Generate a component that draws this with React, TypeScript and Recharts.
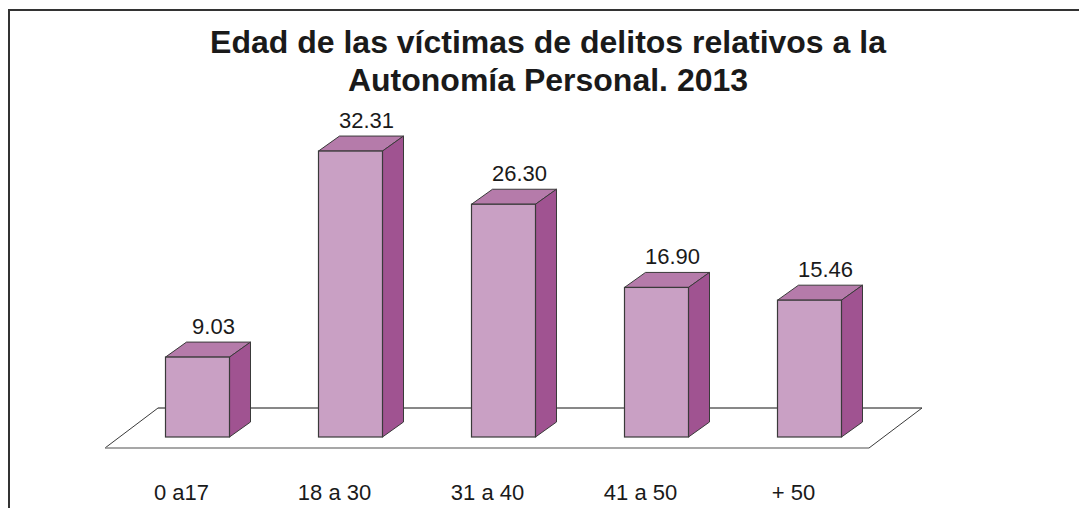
import React from "react";
import { BarChart, Bar, XAxis, YAxis, LabelList } from "recharts";

const categories = ["0 a17", "18 a 30", "31 a 40", "41 a 50", "+ 50"];
const values = [9.03, 32.31, 26.3, 16.9, 15.46];
const titleLines = ["Edad de las víctimas de delitos relativos a la", "Autonomía Personal. 2013"];

const data = categories.map((c, i) => ({ name: c, value: values[i] }));

const W = 1079;
const H = 508;
const MARGIN = { top: 83, right: 193, bottom: 41, left: 121 };
const XAXIS_H = 30;
const PLOT_L = MARGIN.left;
const PLOT_R = W - MARGIN.right;

const DX = 21;
const DY = 15;
const FRONT = "#C9A0C4";
const TOP = "#B57BAA";
const SIDE = "#A05391";
const EDGE = "#3a3a3a";
const FONT = "'Liberation Sans', Arial, Helvetica, sans-serif";

const BarShape = (props: any) => {
  const { x, y, width: w, height: h, index } = props;
  const y0 = y + h;
  let floor = null;
  if (index === 0) {
    const fy = y0 + 11;
    const by = y0 - 29;
    const fl = PLOT_L - 16;
    const fr = PLOT_R - 17;
    floor = (
      <g>
        <polygon
          points={`${fl},${fy} ${fr},${fy} ${fr + 53},${by} ${fl + 53},${by}`}
          fill="#ffffff"
          stroke="none"
        />
        <line x1={fl} y1={fy} x2={fl + 53} y2={by} stroke={EDGE} strokeWidth={1} />
        <line x1={fl + 53} y1={by} x2={fr + 53} y2={by} stroke="#111" strokeWidth={1} />
        <line x1={fr + 53} y1={by} x2={fr} y2={fy} stroke={EDGE} strokeWidth={1} />
        <line x1={fl} y1={fy} x2={fr} y2={fy} stroke="#8a8a8a" strokeWidth={1.5} />
      </g>
    );
  }
  return (
    <g>
      {floor}
      <polygon
        points={`${x},${y} ${x + DX},${y - DY} ${x + w + DX},${y - DY} ${x + w},${y}`}
        fill={TOP}
        stroke={EDGE}
        strokeWidth={1}
        strokeLinejoin="round"
      />
      <polygon
        points={`${x + w},${y} ${x + w + DX},${y - DY} ${x + w + DX},${y0 - DY} ${x + w},${y0}`}
        fill={SIDE}
        stroke={EDGE}
        strokeWidth={1}
        strokeLinejoin="round"
      />
      <rect x={x} y={y} width={w} height={h} fill={FRONT} stroke={EDGE} strokeWidth={1.2} />
    </g>
  );
};

const ValueLabel = (props: any) => {
  const { x, y, width, value } = props;
  return (
    <text
      x={x + width / 2 + 16}
      y={y - DY - 8}
      textAnchor="middle"
      fontFamily={FONT}
      fontSize={22}
      fill="#1a1a1a"
    >
      {Number(value).toFixed(2)}
    </text>
  );
};

const CatTick = (props: any) => {
  const { x, y, payload } = props;
  return (
    <text
      x={x - 16}
      y={y}
      dy={55}
      textAnchor="middle"
      fontFamily={FONT}
      fontSize={22}
      fill="#1a1a1a"
    >
      {payload.value}
    </text>
  );
};

export default function App() {
  return (
    <div style={{ position: "fixed", left: 0, top: 0, width: W, height: H, background: "#fff", overflow: "hidden" }}>
      <div
        style={{
          position: "absolute",
          left: 8,
          top: 9,
          width: 1200,
          height: 700,
          borderTop: "2px solid #333",
          borderLeft: "2px solid #333",
        }}
      />
      <div
        style={{
          position: "absolute",
          left: 0,
          top: 22.6,
          width: 1096,
          textAlign: "center",
          fontFamily: FONT,
          fontWeight: "bold",
          fontSize: 32,
          lineHeight: "38px",
          color: "#1a1a1a",
        }}
      >
        {titleLines.map((t, i) => (
          <div key={i}>{t}</div>
        ))}
      </div>
      <div style={{ position: "absolute", left: 0, top: 0 }}>
        <BarChart width={W} height={H} data={data} margin={MARGIN} barCategoryGap={44.5}>
          <XAxis
            dataKey="name"
            axisLine={false}
            tickLine={false}
            height={XAXIS_H}
            interval={0}
            tick={<CatTick />}
          />
          <YAxis hide domain={[0, 40]} />
          <Bar dataKey="value" shape={<BarShape />} isAnimationActive={false}>
            <LabelList dataKey="value" content={<ValueLabel />} />
          </Bar>
        </BarChart>
      </div>
    </div>
  );
}
